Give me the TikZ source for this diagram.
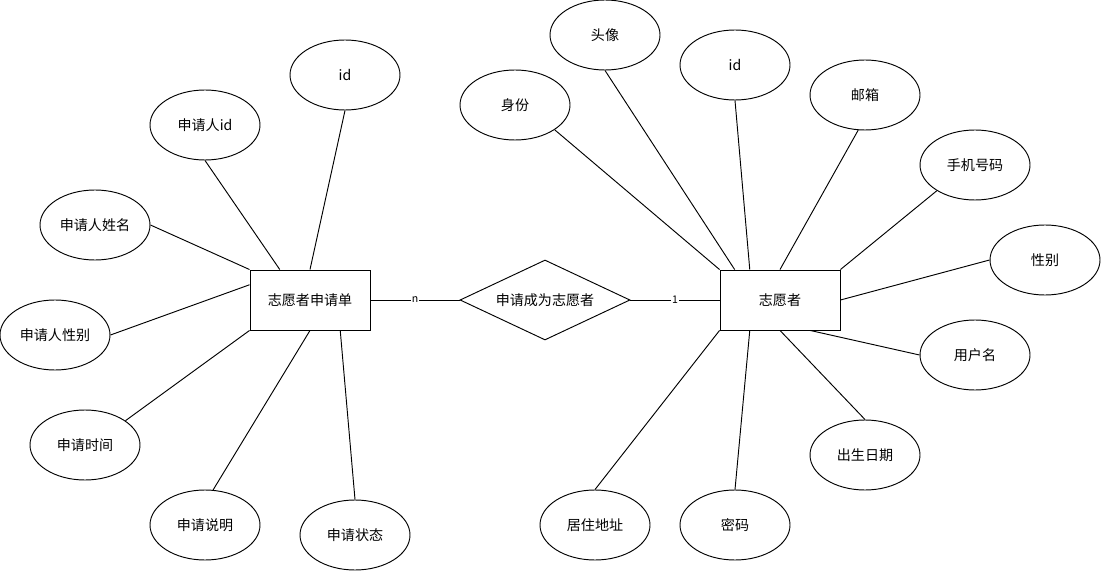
\documentclass[tikz,border=0pt]{standalone}
\usepackage{fontspec}
\setmainfont{Noto Sans CJK SC}
\usetikzlibrary{shapes.geometric,calc}

\begin{document}
\begin{tikzpicture}[x=0.03cm,y=-0.03cm,font=\fontsize{12pt}{14pt}\selectfont]
\tikzstyle{entity} = [rectangle, draw, line width=0.8pt,
minimum width=3.6cm, minimum height=1.8cm]
\tikzstyle{attr} = [ellipse, draw, line width=0.8pt, inner sep=0pt,
minimum width=3.3cm, minimum height=2.1cm]
\tikzstyle{relation} = [diamond, draw, line width=0.8pt, inner sep=0pt, aspect=2.125,
minimum width=5.1cm, minimum height=2.4cm]
\tikzstyle{line} = [draw, line width=0.8pt]
\tikzstyle{card} = [fill=white, inner sep=0.5pt, font=\fontsize{9pt}{10pt}\selectfont]
\useasboundingbox (0,0) rectangle (1101,571);

% entities and relation
\node [entity] (app) at (310,300) {志愿者申请单};
\node [entity] (vol) at (780,300) {志愿者};
\node [relation] (become) at (545,300) {申请成为志愿者};

% attributes of the application
\node [attr] (appid) at (345,75) {id};
\node [attr] (appuid) at (205,125) {申请人id};
\node [attr] (appname) at (95,225) {申请人姓名};
\node [attr] (appsex) at (55,335) {申请人性别};
\node [attr] (apptime) at (85,445) {申请时间};
\node [attr] (appnote) at (205,525) {申请说明};
\node [attr] (appstate) at (355,535) {申请状态};

% attributes of the volunteer
\node [attr] (volrole) at (515,105) {身份};
\node [attr] (volavatar) at (605,35) {头像};
\node [attr] (volid) at (735,65) {id};
\node [attr] (volmail) at (865,95) {邮箱};
\node [attr] (volphone) at (975,165) {手机号码};
\node [attr] (volsex) at (1045,260) {性别};
\node [attr] (voluser) at (975,355) {用户名};
\node [attr] (volbirth) at (865,455) {出生日期};
\node [attr] (volpwd) at (735,525) {密码};
\node [attr] (voladdr) at (595,525) {居住地址};

\tikzstyle{every path}=[line]
\path (app.east) -- node [card, midway] {n} (become.west);
\path (become.east) -- node [card, midway] {1} (vol.west);

\path (app.north) -- (appid.south);
\path ($(app.north west)!0.5!(app.north)$) -- (appuid.south);
\path (app.north west) -- (appname.east);
\path ($(app.north west)!0.25!(app.south west)$) -- (appsex.east);
\path (app.south west) -- (apptime.31);
\path (app.south) -- (appnote.77);
\path ($(app.south)!0.5!(app.south east)$) -- (appstate.north);

\path (vol.north west) -- (volrole.-32);
\path ($(vol.north west)!0.125!(vol.north east)$) -- (volavatar.south);
\path ($(vol.north west)!0.25!(vol.north east)$) -- (volid.south);
\path (vol.north) -- (volmail.-101);
\path (vol.north east) -- (volphone.214);
\path (vol.east) -- (volsex.west);
\path ($(vol.south west)!0.75!(vol.south east)$) -- (voluser.west);
\path (vol.south) -- (volbirth.north);
\path ($(vol.south west)!0.25!(vol.south east)$) -- (volpwd.north);
\path (vol.south west) -- (voladdr.north);
\end{tikzpicture}
\end{document}
